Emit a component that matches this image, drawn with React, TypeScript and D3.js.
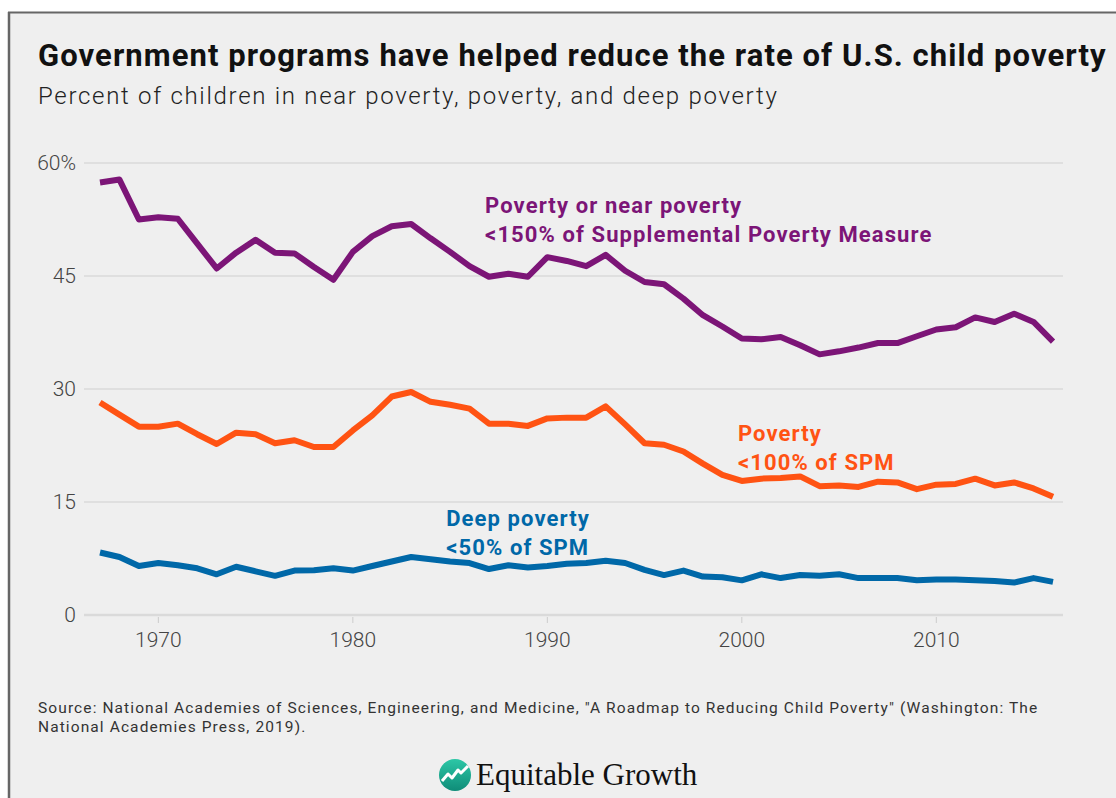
import React from 'react';
import * as d3 from 'd3';

const width = 1116;
const height = 798;
const margin = {top: 163, right: 53, bottom: 183, left: 84};
const purple = '#7c1577';
const orange = '#ff5313';
const blue = '#0068a8';

const years = d3.range(1967, 2017);

const nearPoverty = [
  57.4, 57.8, 52.5, 52.8, 52.6, 49.3, 46.0, 48.1, 49.8, 48.1,
  48.0, 46.2, 44.5, 48.2, 50.3, 51.6, 51.9, 50.0, 48.2, 46.3,
  44.9, 45.3, 44.9, 47.5, 47.0, 46.3, 47.8, 45.7, 44.2, 43.9,
  42.0, 39.8, 38.3, 36.7, 36.6, 36.9, 35.8, 34.6, 35.0, 35.5,
  36.1, 36.1, 37.0, 37.9, 38.2, 39.5, 38.9, 40.0, 38.9, 36.3
];

const poverty = [
  28.2, 26.6, 25.0, 25.0, 25.4, 24.0, 22.7, 24.2, 24.0, 22.8,
  23.2, 22.3, 22.3, 24.5, 26.5, 29.0, 29.6, 28.3, 27.9, 27.4,
  25.4, 25.4, 25.1, 26.1, 26.2, 26.2, 27.7, 25.3, 22.8, 22.6,
  21.7, 20.1, 18.6, 17.8, 18.1, 18.2, 18.4, 17.1, 17.2, 17.0,
  17.7, 17.6, 16.7, 17.3, 17.4, 18.1, 17.2, 17.6, 16.8, 15.7
];

const deepPoverty = [
  8.3, 7.7, 6.5, 6.9, 6.6, 6.2, 5.4, 6.4, 5.8, 5.2,
  5.9, 5.95, 6.2, 5.9, 6.5, 7.1, 7.7, 7.4, 7.1, 6.9,
  6.1, 6.6, 6.3, 6.5, 6.8, 6.9, 7.2, 6.9, 6.0, 5.3,
  5.9, 5.1, 5.0, 4.6, 5.4, 4.9, 5.3, 5.2, 5.4, 4.9,
  4.9, 4.9, 4.6, 4.7, 4.7, 4.6, 4.5, 4.3, 4.9, 4.4
];

const yTicks = [0, 15, 30, 45, 60];
const xTicks = [1970, 1980, 1990, 2000, 2010];

const series = [
  {name: 'near', values: nearPoverty, color: purple},
  {name: 'poverty', values: poverty, color: orange},
  {name: 'deep', values: deepPoverty, color: blue},
];

// label anchors in data units (year, percent)
const labels = [
  {lines: ['Poverty or near poverty', '<150% of Supplemental Poverty Measure'], year: 1986.8, value: 53.4, color: purple},
  {lines: ['Poverty', '<100% of SPM'], year: 1999.8, value: 23.1, color: orange},
  {lines: ['Deep poverty', '<50% of SPM'], year: 1984.8, value: 11.8, color: blue},
];

const font = 'Roboto, "Noto Sans", sans-serif';

const App: React.FC = () => {
  const xScale = d3.scaleLinear()
    .domain([1967, 2016])
    .range([100, 1053]);

  const yScale = d3.scaleLinear()
    .domain([0, 60])
    .range([height - margin.bottom, margin.top]);

  const line = d3.line<number>()
    .x((d, i) => xScale(years[i]))
    .y(d => yScale(d));

  return (
    <div style={{position: 'absolute', left: 0, top: 0}}>
      <svg width={width} height={height} style={{display: 'block'}}>
        <defs>
          <linearGradient id='logoGrad' x1='0' y1='0' x2='0' y2='1'>
            <stop offset='0%' stopColor='#2cc7a6' />
            <stop offset='100%' stopColor='#0f8c78' />
          </linearGradient>
        </defs>
        <rect x={0} y={0} width={width} height={height} fill='#ffffff' />
        <rect x={9} y={13} width={width - 9} height={height - 13} fill='#efefef' />
        <line x1={9} x2={9} y1={12} y2={height} stroke='#666' strokeWidth={2.5} />
        <line x1={8} x2={width} y1={12.5} y2={12.5} stroke='#666' strokeWidth={2} />

        <text x={38} y={66} fontFamily={font} fontWeight={700} fontSize={31} letterSpacing={1.07} fill='#111'>
          Government programs have helped reduce the rate of U.S. child poverty
        </text>
        <text x={38} y={104} fontFamily={font} fontWeight={300} fontSize={24} letterSpacing={1.7} fill='#222'>
          Percent of children in near poverty, poverty, and deep poverty
        </text>

        {/* grid + y labels */}
        {yTicks.map(t => (
          <g key={t}>
            <line x1={margin.left} x2={width - margin.right} y1={yScale(t)} y2={yScale(t)}
              stroke='#dadada' strokeWidth={t === 0 ? 2.5 : 1.5} />
            <text x={76} y={yScale(t) + 7} textAnchor='end' fontFamily={font} fontWeight={300}
              fontSize={21} fill='#444'>
              {t === 60 ? '60%' : t}
            </text>
          </g>
        ))}

        {/* x ticks */}
        {xTicks.map(t => (
          <g key={t}>
            <line x1={xScale(t)} x2={xScale(t)} y1={yScale(0) + 2} y2={yScale(0) + 8} stroke='#ccc' strokeWidth={1} />
            <text x={xScale(t)} y={647} textAnchor='middle' fontFamily={font} fontWeight={300}
              fontSize={21} fill='#444'>
              {t}
            </text>
          </g>
        ))}

        {series.map(s => (
          <path key={s.name} d={line(s.values) || ''} fill='none' stroke={s.color}
            strokeWidth={6} strokeLinejoin='round' />
        ))}

        {labels.map(l => (
          <text key={l.lines[0]} x={xScale(l.year)} y={yScale(l.value)} fontFamily={font}
            fontWeight={700} fontSize={22} letterSpacing={1.1} fill={l.color}>
            {l.lines.map((t, i) => (
              <tspan key={t} x={xScale(l.year)} dy={i === 0 ? 0 : 29}>{t}</tspan>
            ))}
          </text>
        ))}

        <text x={38} y={713} fontFamily={font} fontSize={15.5} letterSpacing={1.1} fill='#333'>
          Source: National Academies of Sciences, Engineering, and Medicine, "A Roadmap to Reducing Child Poverty" (Washington: The
        </text>
        <text x={38} y={732} fontFamily={font} fontSize={15.5} letterSpacing={1.1} fill='#333'>
          National Academies Press, 2019).
        </text>

        {/* logo */}
        <g transform='translate(455, 775)'>
          <circle r={16} fill='url(#logoGrad)' />
          <path d='M-13,6 L-7,-1 L-3,3 L3,-5 L6,-2 L13,-9' fill='none' stroke='#fff' strokeWidth={3}
            strokeLinejoin='round' />
        </g>
        <text x={476} y={785} fontFamily='"Liberation Serif", serif' fontSize={31} fill='#111'>
          Equitable Growth
        </text>
      </svg>
    </div>
  );
};

export default App;
